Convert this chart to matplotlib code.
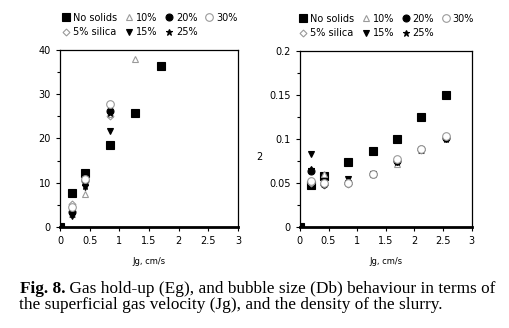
import matplotlib.pyplot as plt
import numpy as np

# Gas hold-up (left) vs Jg
jg_a = [0.2, 0.42, 0.84]
eg_none_x = [0.0, 0.2, 0.42, 0.84, 1.27, 1.7]
eg_none = [0.0, 7.7, 12.1, 18.5, 25.7, 36.4]
eg_10_x = [0.2, 0.42, 0.84, 1.27]
eg_10 = [3.0, 7.5, 25.5, 38.0]
eg_20 = [3.3, 10.5, 26.2]
eg_30 = [4.5, 10.8, 27.8]
eg_5si = [5.3, 10.2, 25.0]
eg_15 = [2.5, 9.0, 21.7]
eg_25 = [3.0, 9.2, 25.7]

# Bubble size (right) vs Jg
jg_b = [0.2, 0.42, 0.84, 1.27, 1.7, 2.12, 2.55]
db_none_x = [0.0, 0.2, 0.42, 0.84, 1.27, 1.7, 2.12, 2.55]
db_none = [0.0, 0.048, 0.058, 0.074, 0.086, 0.100, 0.125, 0.150]
db_10 = [0.066, 0.060, 0.055, 0.060, 0.072, 0.087, 0.103]
db_20 = [0.064, 0.049, 0.050, 0.060, 0.075, 0.088, 0.101]
db_30 = [0.052, 0.050, 0.050, 0.060, 0.077, 0.088, 0.103]
db_5si = [0.050, 0.048, 0.049, 0.060, 0.076, 0.087, 0.102]
db_15 = [0.083, 0.051, 0.055, 0.060, 0.074, 0.087, 0.100]
db_25 = [0.066, 0.052, 0.052, 0.060, 0.074, 0.087, 0.100]

grey = '#9a9a9a'
styles = {
    'No solids': dict(marker='s', color='black', ms=6),
    '5% silica': dict(marker='D', mfc='white', mec=grey, ms=3.5),
    '10%': dict(marker='^', mfc='white', mec=grey, ms=5),
    '15%': dict(marker='v', color='black', ms=4.5),
    '20%': dict(marker='o', color='black', ms=5),
    '25%': dict(marker='*', color='black', ms=5),
    '30%': dict(marker='o', mfc='white', mec=grey, ms=5.5),
}

fig = plt.figure(figsize=[5.1, 3.28], dpi=100)
ax1 = fig.add_axes([0.1176, 0.308, 0.349, 0.540])
ax2 = fig.add_axes([0.588, 0.308, 0.337, 0.537])

def draw(ax, series):
    for name in ['No solids', '5% silica', '10%', '15%', '20%', '25%', '30%']:
        x, y = series[name]
        ax.plot(x, y, ls='none', mew=0.8, label=name, **styles[name])

draw(ax1, {'No solids': (eg_none_x, eg_none), '5% silica': (jg_a, eg_5si),
           '10%': (eg_10_x, eg_10), '15%': (jg_a, eg_15), '20%': (jg_a, eg_20),
           '25%': (jg_a, eg_25), '30%': (jg_a, eg_30)})
draw(ax2, {'No solids': (db_none_x, db_none), '5% silica': (jg_b, db_5si),
           '10%': (jg_b, db_10), '15%': (jg_b, db_15), '20%': (jg_b, db_20),
           '25%': (jg_b, db_25), '30%': (jg_b, db_30)})

ax1.set_ylim(0, 40)
ax1.set_yticks([0, 10, 20, 30, 40])
ax1.set_yticks([5, 15, 25, 35], minor=True)
ax2.set_ylim(0, 0.2)
ax2.set_yticks([0, 0.05, 0.1, 0.15, 0.2])
ax2.set_yticklabels(['0', '0.05', '0.1', '0.15', '0.2'])
ax2.set_yticks([0.025, 0.075, 0.125, 0.175], minor=True)

for ax in (ax1, ax2):
    ax.set_xlim(0, 3)
    ax.set_xticks([0, 0.5, 1, 1.5, 2, 2.5, 3])
    ax.set_xticklabels(['0', '0.5', '1', '1.5', '2', '2.5', '3'])
    ax.tick_params(labelsize=7, length=3, width=0.8, direction='out')
    ax.tick_params(which='minor', length=2, width=0.8)
    for s in ax.spines.values():
        s.set_linewidth(0.9)
    ax.spines['bottom'].set_linewidth(2)
    ax.set_xlabel('Jg, cm/s', fontsize=6, labelpad=8)
    ax.legend(loc='lower center', bbox_to_anchor=(0.5, 1.045), ncol=4, fontsize=7,
              frameon=False, handletextpad=0.1, columnspacing=0.6, labelspacing=0.45,
              handlelength=1.2, borderpad=0)

# clipped label fragment visible between the panels
fig.text(0.502, 0.512, '2', fontsize=7)

# caption
cap = 12.4
bold = fig.text(0.039, 0.107, 'Fig. 8.', fontsize=cap, fontweight='bold',
                family='Liberation Serif')
plt.annotate(' Gas hold-up (Eg), and bubble size (Db) behaviour in terms of',
             xy=(1, 0), xycoords=bold, va='bottom', fontsize=cap,
             family='Liberation Serif', annotation_clip=False)
fig.text(0.037, 0.058, 'the superficial gas velocity (Jg), and the density of the slurry.',
         fontsize=cap, family='Liberation Serif')

plt.savefig('out.png')
